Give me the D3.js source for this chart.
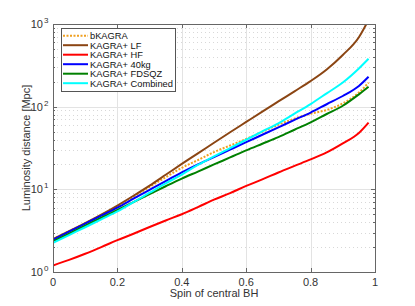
<!DOCTYPE html>
<meta charset="utf-8">
<script src="https://d3js.org/d3.v7.min.js"></script>
<style>
body { margin: 0; background: #fff; }
text { font-family: "Liberation Sans", Arial, sans-serif; fill: #333; }
.grid-major { stroke: #e3e3e3; stroke-width: 1; }
.grid-minor { stroke: #d8d8d8; stroke-width: 1; stroke-dasharray: 1,3; }
.series { fill: none; stroke-width: 2; stroke-linejoin: round; }
</style>
<body>
<script>

// spin of central BH
var spin = [0, 0.05, 0.1, 0.15, 0.2, 0.25, 0.3, 0.35, 0.4, 0.45, 0.5, 0.55, 0.6, 0.65, 0.7, 0.75, 0.8, 0.85, 0.9, 0.95, 0.98];

// luminosity distance [Mpc]
var bKAGRA   = [2.5, 3.11, 3.89, 4.9, 6.2, 8.13, 10.7, 14, 18.2, 22.6, 28.2, 33.9, 40.7, 49.5, 60.5, 71.6, 82.2, 91.2, 109.6, 148, 195];
var lf       = [2.5, 3.11, 3.9, 4.94, 6.37, 8.36, 11.1, 15.0, 20.3, 27.2, 36.6, 49, 65.3, 87, 115.6, 153.5, 204, 282, 422, 692, 1122];
var hf       = [1.2, 1.4, 1.66, 2.0, 2.43, 2.9, 3.5, 4.2, 5.0, 6.1, 7.5, 9.0, 11, 13.2, 16, 19.2, 23, 28, 36, 48, 64];
var kg40     = [2.45, 3.07, 3.84, 4.8, 6.01, 7.7, 9.86, 12.6, 16, 20, 24.5, 30.2, 37.2, 45.7, 56.2, 69.2, 84.9, 107, 134.6, 178, 230];
var fdsqz    = [2.35, 2.92, 3.64, 4.53, 5.64, 7.01, 8.73, 10.9, 13.5, 16.4, 20, 24.3, 29.6, 35.6, 42.8, 52.6, 64.7, 81.5, 102.6, 141, 174];
var combined = [2.25, 2.8, 3.48, 4.34, 5.4, 7.0, 9.1, 11.8, 15.1, 19.7, 25.1, 31.6, 39.8, 50.1, 63, 82.2, 107.6, 145, 196, 290, 380];

var seriesNames = ["bKAGRA", "KAGRA+ LF", "KAGRA+ HF", "KAGRA+ 40kg", "KAGRA+ FDSQZ", "KAGRA+ Combined"];
var seriesValues = [bKAGRA, lf, hf, kg40, fdsqz, combined];
var seriesColors = ["#f0a020", "#8b4513", "#ff0000", "#0000ff", "#008000", "#00ffff"];

var xTicks = [0, 0.2, 0.4, 0.6, 0.8, 1];
var xTickLabels = ["0", "0.2", "0.4", "0.6", "0.8", "1"];
var yDecades = [0, 1, 2, 3];

var width = 415, height = 306;
var pl = 53, pr = 375, pt = 24, pb = 272;

var svg = d3.select("body").append("svg")
    .attr("width", width)
    .attr("height", height);

var x = d3.scaleLinear().domain([0, 1]).range([pl, pr]);
var y = d3.scaleLog().domain([1, 1000]).range([pb, pt]);

// minor grid (dotted) on y
var minors = [];
yDecades.slice(0, 3).forEach(function(e) {
  for (var m = 2; m <= 9; m++) minors.push(m * Math.pow(10, e));
});
svg.append("g").selectAll("line").data(minors).enter().append("line")
    .attr("class", "grid-minor")
    .attr("x1", pl).attr("x2", pr)
    .attr("y1", function(d) { return Math.round(y(d)) + 0.5; })
    .attr("y2", function(d) { return Math.round(y(d)) + 0.5; });

// major grid
svg.append("g").selectAll("line").data(yDecades).enter().append("line")
    .attr("class", "grid-major")
    .attr("x1", pl).attr("x2", pr)
    .attr("y1", function(d) { return Math.round(y(Math.pow(10, d))) + 0.5; })
    .attr("y2", function(d) { return Math.round(y(Math.pow(10, d))) + 0.5; });
svg.append("g").selectAll("line").data(xTicks).enter().append("line")
    .attr("class", "grid-major")
    .attr("y1", pt).attr("y2", pb)
    .attr("x1", function(d) { return Math.round(x(d)) + 0.5; })
    .attr("x2", function(d) { return Math.round(x(d)) + 0.5; });

svg.append("clipPath").attr("id", "clip")
  .append("rect")
    .attr("x", pl).attr("y", pt)
    .attr("width", pr - pl).attr("height", pb - pt);

var line = d3.line()
    .x(function(d, i) { return x(spin[i]); })
    .y(function(d) { return y(d); })
    .curve(d3.curveMonotoneX);

svg.append("g").attr("clip-path", "url(#clip)")
  .selectAll("path").data(seriesValues).enter().append("path")
    .attr("class", "series")
    .attr("d", line)
    .style("stroke", function(d, i) { return seriesColors[i]; })
    .style("stroke-dasharray", function(d, i) { return i == 0 ? "2,1.5" : null; });

// axes box and ticks
var axisColor = "#666";
svg.append("rect")
    .attr("x", pl + 0.5).attr("y", pt + 0.5)
    .attr("width", pr - pl).attr("height", pb - pt)
    .attr("fill", "none").attr("stroke", axisColor);

var tickG = svg.append("g").attr("stroke", axisColor);
xTicks.forEach(function(t) {
  var px = Math.round(x(t)) + 0.5;
  tickG.append("line").attr("x1", px).attr("x2", px).attr("y1", pb).attr("y2", pb - 4);
  tickG.append("line").attr("x1", px).attr("x2", px).attr("y1", pt).attr("y2", pt + 4);
});
yDecades.forEach(function(e) {
  var py = Math.round(y(Math.pow(10, e))) + 0.5;
  tickG.append("line").attr("x1", pl).attr("x2", pl + 4).attr("y1", py).attr("y2", py);
  tickG.append("line").attr("x1", pr).attr("x2", pr - 4).attr("y1", py).attr("y2", py);
});
minors.forEach(function(v) {
  var py = Math.round(y(v)) + 0.5;
  tickG.append("line").attr("x1", pl).attr("x2", pl + 2).attr("y1", py).attr("y2", py);
  tickG.append("line").attr("x1", pr).attr("x2", pr - 2).attr("y1", py).attr("y2", py);
});

// tick labels
svg.append("g").selectAll("text").data(xTicks).enter().append("text")
    .attr("x", function(d) { return x(d); })
    .attr("y", pb + 14)
    .attr("text-anchor", "middle")
    .style("font-size", "11px")
    .text(function(d, i) { return xTickLabels[i]; });

var yl = svg.append("g").selectAll("g").data(yDecades).enter().append("g")
    .attr("transform", function(d) { return "translate(0," + y(Math.pow(10, d)) + ")"; });
yl.append("text")
    .attr("x", 43).attr("y", 4)
    .attr("text-anchor", "end")
    .style("font-size", "11px")
    .text("10");
yl.append("text")
    .attr("x", 44).attr("y", -1)
    .style("font-size", "8px")
    .text(function(d) { return d; });

// axis labels
svg.append("text")
    .attr("x", (pl + pr) / 2)
    .attr("y", 297)
    .attr("text-anchor", "middle")
    .style("font-size", "11px")
    .text("Spin of central BH");

svg.append("text")
    .attr("transform", "translate(30," + (pt + pb) / 2 + ") rotate(-90)")
    .attr("text-anchor", "middle")
    .style("font-size", "11px")
    .text("Luminosity distance [Mpc]");

// legend
var legend = svg.append("g").attr("transform", "translate(61,28)");
legend.append("rect")
    .attr("x", 0.5).attr("y", 0.5)
    .attr("width", 114).attr("height", 63)
    .attr("fill", "#fff").attr("stroke", "#555");
var item = legend.selectAll(".item").data(seriesNames).enter().append("g")
    .attr("transform", function(d, i) { return "translate(0," + (7.7 + i * 9.5) + ")"; });
item.append("line")
    .attr("x1", 2).attr("x2", 27).attr("y1", 0).attr("y2", 0)
    .attr("stroke-width", 2)
    .attr("stroke", function(d, i) { return seriesColors[i]; })
    .attr("stroke-dasharray", function(d, i) { return i == 0 ? "2,1.5" : null; });
item.append("text")
    .attr("x", 29).attr("y", 3.5)
    .style("font-size", "9.3px")
    .style("fill", "#111")
    .text(function(d) { return d; });

</script>
</body>
